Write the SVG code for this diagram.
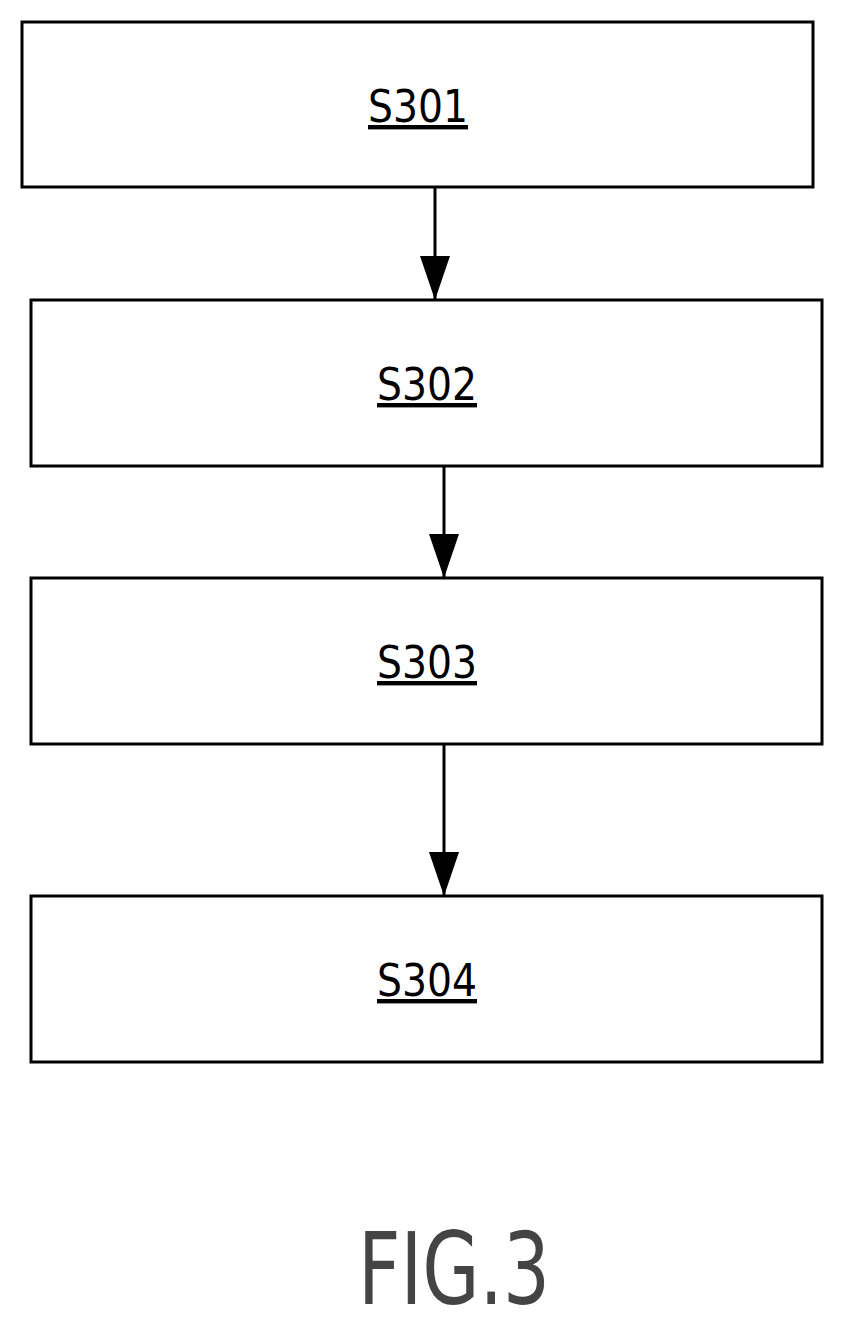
<svg xmlns="http://www.w3.org/2000/svg" width="845" height="1330" viewBox="0 0 845 1330">
<style>
.box{fill:#fff;stroke:#000;stroke-width:3}
.lbl{font-family:"DejaVu Sans Condensed","DejaVu Sans",sans-serif;font-size:44px;text-anchor:middle;text-decoration:underline;fill:#000}
.conn{stroke:#000;stroke-width:3;fill:none}
</style>
<defs>
<marker id="a" viewBox="0 0 44 30" refX="44" refY="15" markerWidth="44" markerHeight="30" orient="auto" markerUnits="userSpaceOnUse"><path d="M0,0 L44,15 L0,30 Z" fill="#000"/></marker></defs>
<rect width="845" height="1330" fill="#fff"/>
<g id="n1"><rect class="box" x="22" y="22" width="791" height="165"/><text class="lbl" x="418" y="122" textLength="100" lengthAdjust="spacingAndGlyphs">S301</text></g>
<g id="n2"><rect class="box" x="31" y="300" width="791" height="166"/><text class="lbl" x="427" y="400" textLength="100" lengthAdjust="spacingAndGlyphs">S302</text></g>
<g id="n3"><rect class="box" x="31" y="578" width="791" height="166"/><text class="lbl" x="427" y="678" textLength="100" lengthAdjust="spacingAndGlyphs">S303</text></g>
<g id="n4"><rect class="box" x="31" y="896" width="791" height="166"/><text class="lbl" x="427" y="996" textLength="100" lengthAdjust="spacingAndGlyphs">S304</text></g>
<g id="connectors">
<line class="conn" x1="435" y1="187" x2="435" y2="300" marker-end="url(#a)"/>
<line class="conn" x1="444" y1="466" x2="444" y2="578" marker-end="url(#a)"/>
<line class="conn" x1="444" y1="744" x2="444" y2="896" marker-end="url(#a)"/>
</g>
<text x="358" y="1304" font-family="DejaVu Sans Condensed,DejaVu Sans,sans-serif" font-size="100" textLength="192" lengthAdjust="spacingAndGlyphs" fill="#444">FIG.3</text>
</svg>
